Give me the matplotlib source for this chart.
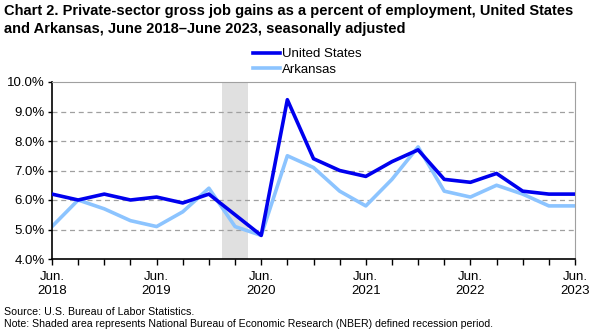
import matplotlib
matplotlib.use("Agg")
import matplotlib.pyplot as plt
import numpy as np

plt.rcParams['font.family'] = ['Liberation Sans', 'DejaVu Sans']

quarters = ["Jun. 2018", "Sep. 2018", "Dec. 2018", "Mar. 2019", "Jun. 2019", "Sep. 2019",
            "Dec. 2019", "Mar. 2020", "Jun. 2020", "Sep. 2020", "Dec. 2020", "Mar. 2021",
            "Jun. 2021", "Sep. 2021", "Dec. 2021", "Mar. 2022", "Jun. 2022", "Sep. 2022",
            "Dec. 2022", "Mar. 2023", "Jun. 2023"]
us = [6.2, 6.0, 6.2, 6.0, 6.1, 5.9, 6.2, 5.5, 4.8, 9.4, 7.4, 7.0, 6.8, 7.3, 7.7,
      6.7, 6.6, 6.9, 6.3, 6.2, 6.2]
arkansas = [5.1, 6.0, 5.7, 5.3, 5.1, 5.6, 6.4, 5.1, 4.8, 7.5, 7.1, 6.3, 5.8, 6.7, 7.8,
            6.3, 6.1, 6.5, 6.2, 5.8, 5.8]
tick_labels = ["Jun.\n2018", "Jun.\n2019", "Jun.\n2020", "Jun.\n2021", "Jun.\n2022", "Jun.\n2023"]
recession_start, recession_end = 6.5, 7.5  # quarter index span (around Mar. 2020)
yticks = [4, 5, 6, 7, 8, 9, 10]

fig = plt.figure(figsize=(6.02, 3.34), dpi=100)
ax = fig.add_axes([52/602, 1-259/334, (575-52)/602, (259-82)/334])

x = np.arange(len(quarters))
ax.axvspan(recession_start, recession_end, color='#e0e0e0', zorder=0, lw=0)
for yv in yticks[1:-1]:
    ax.axhline(yv, color='#a0a0a0', lw=0.9, ls=(0, (4, 3)), zorder=1)

ax.plot(x, us, color='#0000ee', lw=2.6, label='United States', zorder=3)
ax.plot(x, arkansas, color='#8cc4ff', lw=2.6, label='Arkansas', zorder=2)

ax.set_xlim(0, len(quarters) - 1)
ax.set_ylim(4, 10)
ax.set_yticks(yticks)
ax.set_yticklabels([f"{v:.1f}%" for v in yticks], fontsize=9.5)
ax.set_xticks(x, minor=True)
ax.set_xticks(x[::4])
ax.set_xticklabels(tick_labels, fontsize=9.5, linespacing=1.2)
ax.tick_params(axis='x', which='both', direction='out', length=4, width=1, pad=5)
ax.tick_params(axis='y', direction='out', length=3, width=1, pad=2)

ax.spines['left'].set_color('black')
ax.spines['bottom'].set_color('black')
ax.spines['left'].set_linewidth(1.2)
ax.spines['bottom'].set_linewidth(1.2)
ax.spines['top'].set_color('#a0a0a0')
ax.spines['right'].set_color('#a0a0a0')

fig.text(0.006, 1-4/334, "Chart 2. Private-sector gross job gains as a percent of employment, United States\nand Arkansas, June 2018\u2013June 2023, seasonally adjusted",
         fontsize=10.5, fontweight='bold', va='top', ha='left', linespacing=1.4)

leg = fig.legend(loc='upper left', bbox_to_anchor=(253/602, 1-48/334), frameon=False,
                 fontsize=9.5, handlelength=2.05, handletextpad=0.15, labelspacing=0.25,
                 borderaxespad=0, borderpad=0)

fig.text(0.006, 1-312/334, "Source: U.S. Bureau of Labor Statistics.", fontsize=7.7, va='center', ha='left')
fig.text(0.006, 1-324/334, "Note: Shaded area represents National Bureau of Economic Research (NBER) defined recession period.",
         fontsize=7.6, va='center', ha='left')

fig.savefig("out.png", dpi=100)
